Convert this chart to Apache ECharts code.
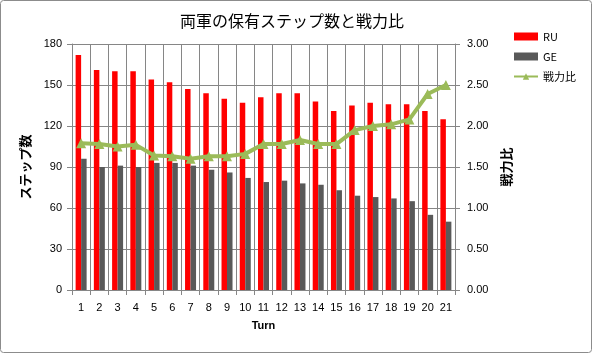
<!DOCTYPE html>
<html>
<head>
<meta charset="utf-8">
<script src="https://cdn.jsdelivr.net/npm/echarts@6/dist/echarts.min.js"></script>
<style>
html,body{margin:0;padding:0;background:#fff;}
#c{width:593px;height:354px;}
</style>
</head>
<body>
<div id="c"></div>
<script>
const turns = ['1','2','3','4','5','6','7','8','9','10','11','12','13','14','15','16','17','18','19','20','21'];
const ru = [172,161,160,160,154,152,147,144,140,137,141,144,144,138,131,135,137,136,136,131,125];
const ge = [96,90,91,90,93,93,91,88,86,82,79,80,78,77,73,69,68,67,65,55,50];
const ratio = [1.79,1.78,1.75,1.77,1.64,1.63,1.60,1.63,1.63,1.66,1.78,1.78,1.83,1.78,1.78,1.95,2.00,2.02,2.08,2.39,2.50];
const leftTicks = [0,30,60,90,120,150,180];

const font = '"Liberation Sans","Noto Sans CJK JP",sans-serif';
const jfont = '"Noto Sans CJK JP","Liberation Sans",sans-serif';
const gridColor = '#868686';

const chart = echarts.init(document.getElementById('c'), null, {renderer:'canvas'});
chart.setOption({
  animation: false,
  textStyle: {fontFamily: font},
  graphic: [{
    type: 'rect',
    shape: {x: 0.5, y: 0.5, width: 591, height: 352, r: 3},
    style: {fill: 'none', stroke: '#8c8c8c', lineWidth: 1},
    silent: true
  }],
  title: {
    text: '両軍の保有ステップ数と戦力比',
    left: 287, top: 8, textAlign: 'center',
    textStyle: {fontFamily: jfont, fontSize: 16, fontWeight: 'normal', color: '#000'}
  },
  legend: {
    orient: 'vertical', left: 508, top: 26,
    itemGap: 9, itemWidth: 24, itemHeight: 8,
    textStyle: {fontFamily: jfont, fontSize: 11, color: '#000'},
    data: [{name:'RU', icon:'rect'},{name:'GE', icon:'rect'},{name:'戦力比'}]
  },
  grid: {left: 72, right: 138, top: 44, bottom: 64, containLabel: false},
  xAxis: {
    type: 'category', data: turns,
    name: 'Turn', nameLocation: 'middle', nameGap: 30,
    nameTextStyle: {fontWeight: 'bold', fontSize: 11, color: '#000', fontFamily: font},
    axisLine: {lineStyle: {color: gridColor}},
    axisTick: {show: true, length: 5, lineStyle: {color: gridColor}},
    axisLabel: {color: '#000', fontSize: 11, margin: 12},
    splitLine: {show: true, lineStyle: {color: gridColor, width: 1}}
  },
  yAxis: [{
    type: 'value', min: 0, max: 180, interval: 30,
    name: 'ステップ数', nameLocation: 'middle', nameGap: 40, nameRotate: 90,
    nameTextStyle: {fontFamily: jfont, fontWeight: 'bold', fontSize: 13, color: '#000'},
    axisLine: {show: true, lineStyle: {color: gridColor}},
    axisTick: {show: true, length: 5, lineStyle: {color: gridColor}},
    axisLabel: {color: '#000', fontSize: 11, margin: 10},
    splitLine: {show: true, lineStyle: {color: gridColor, width: 1}}
  },{
    type: 'value', min: 0, max: 3, interval: 0.5,
    name: '戦力比', nameLocation: 'middle', nameGap: 42, nameRotate: 90,
    nameTextStyle: {fontFamily: jfont, fontWeight: 'bold', fontSize: 13, color: '#000'},
    axisLine: {show: true, lineStyle: {color: gridColor}},
    axisTick: {show: true, length: 5, lineStyle: {color: gridColor}},
    axisLabel: {color: '#000', fontSize: 11, margin: 12, formatter: v => v.toFixed(2)},
    splitLine: {show: false}
  }],
  series: [{
    name: 'RU', type: 'bar', data: ru, barWidth: 5.5, barGap: '0%',
    itemStyle: {color: '#ff0000'}
  },{
    name: 'GE', type: 'bar', data: ge, barWidth: 5.5, barGap: '0%',
    itemStyle: {color: '#595959'}
  },{
    name: '戦力比', type: 'line', yAxisIndex: 1, data: ratio,
    symbol: 'triangle', symbolSize: 10, showSymbol: true,
    lineStyle: {color: '#9bbb59', width: 4},
    itemStyle: {color: '#9bbb59'},
    z: 5
  }]
});
</script>
</body>
</html>
